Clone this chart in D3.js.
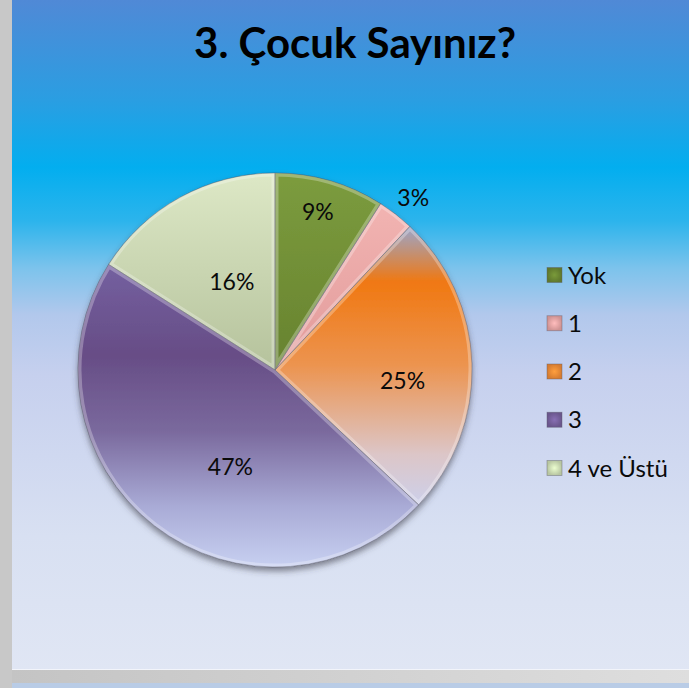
<!DOCTYPE html>
<html>
<head>
<meta charset="utf-8">
<script src="https://cdn.jsdelivr.net/npm/d3@7"></script>
<style>
	html, body { margin: 0; padding: 0; background: #c8c8c8; }
	svg { display: block; font-family: Lato, "Open Sans", sans-serif; }
</style>
</head>
<body>
<svg id="chart" width="689" height="688"></svg>
<script>
'use strict';

// chart data
const title = '3. Çocuk Sayınız?';
const categories = ['Yok', '1', '2', '3', '4 ve Üstü'];
const percents = [9, 3, 25, 47, 16];

// slice colours, top to bottom of each slice
const sliceStops = [
	[[0, '#7c9c3e'], [1, '#67822f']],
	[[0, '#f2b4b2'], [1, '#e19a9a']],
	[[0, '#9aa6cc'], [0.2, '#f07812'], [0.5, '#ec9450'], [0.82, '#dcc6c8'], [1, '#cdd0ea']],
	[[0, '#7460a0'], [0.3, '#674d86'], [0.55, '#7a699d'], [0.8, '#a9abd6'], [1, '#c7d0f1']],
	[[0, '#dde8c6'], [1, '#b5c29c']],
];
const legendColours = ['#6a8632', '#e6a4a4', '#ee8a36', '#76609c', '#cddcb4'];
// label placement: fraction of radius, angle shift in degrees
const labelPlace = [[0.83, -1], [1.12, 1], [0.65, 6.7], [0.54, -13], [0.5, 2.8]];

const W = 689, H = 688;
const svg = d3.select('#chart');
const defs = svg.append('defs');

// background panel
let bg = defs.append('linearGradient').attr('id', 'bg')
	.attr('x1', 0).attr('y1', 0).attr('x2', 0).attr('y2', 1);
[
	[0, '#5089d6'], [0.15, '#2a9ee2'], [0.25, '#03aeef'], [0.33, '#2cb4ec'],
	[0.4, '#7cc3ec'], [0.47, '#b2c8ec'], [0.56, '#c6d0ee'], [0.8, '#d8e0f2'], [1, '#e0e6f4']
].forEach(s => bg.append('stop').attr('offset', s[0]).attr('stop-color', s[1]));

let strip = defs.append('linearGradient').attr('id', 'strip');
strip.append('stop').attr('offset', 0).attr('stop-color', '#c4c4c4');
strip.append('stop').attr('offset', 1).attr('stop-color', '#dedede');

svg.append('rect').attr('x', 0).attr('y', 0).attr('width', W).attr('height', H).attr('fill', '#c8c8c8');
svg.append('rect').attr('x', 12).attr('y', 670).attr('width', W - 12).attr('height', 13).attr('fill', 'url(#strip)');
svg.append('rect').attr('x', 12).attr('y', 683).attr('width', W - 12).attr('height', 5).attr('fill', '#b9cce6');
svg.append('rect').attr('x', 12).attr('y', 0).attr('width', W - 12).attr('height', 670).attr('fill', 'url(#bg)');
svg.append('line').attr('x1', 12).attr('x2', W).attr('y1', 669.5).attr('y2', 669.5)
	.attr('stroke', '#f2f4fa').attr('stroke-width', 1);

// title
svg.append('text')
	.attr('x', 355).attr('y', 58)
	.attr('text-anchor', 'middle')
	.attr('font-weight', 'bold')
	.attr('font-size', 42)
	.attr('fill', '#000')
	.text(title);

// pie
const cx = 275, cy = 370, R = 197;

let shadow = defs.append('filter').attr('id', 'shadow')
	.attr('x', '-20%').attr('y', '-20%').attr('width', '140%').attr('height', '140%');
shadow.append('feDropShadow').attr('dx', 0).attr('dy', 4).attr('stdDeviation', 3)
	.attr('flood-color', '#3a3a4a').attr('flood-opacity', 0.6);

const pie = d3.pie().sort(null).value(d => d);
const arcs = pie(percents);
const arc = d3.arc().innerRadius(0).outerRadius(R);

let pieG = svg.append('g').attr('transform', `translate(${cx},${cy})`);
let sliceG = pieG.append('g').attr('filter', 'url(#shadow)');

arcs.forEach((a, i) => {
	let g = defs.append('linearGradient').attr('id', 'slice' + i)
		.attr('x1', 0).attr('y1', 0).attr('x2', 0).attr('y2', 1);
	sliceStops[i].forEach(s => g.append('stop').attr('offset', s[0]).attr('stop-color', s[1]));
	defs.append('clipPath').attr('id', 'clip' + i)
		.append('path').attr('transform', `translate(${cx},${cy})`).attr('d', arc(a));
});

sliceG.selectAll('path.slice')
	.data(arcs)
	.enter().append('path')
		.attr('class', 'slice')
		.attr('d', arc)
		.attr('fill', (d, i) => 'url(#slice' + i + ')');

// soft bevel: light inner rim, dark outline
let rimG = svg.append('g');
arcs.forEach((a, i) => {
	rimG.append('g').attr('clip-path', 'url(#clip' + i + ')')
		.append('path')
			.attr('transform', `translate(${cx},${cy})`)
			.attr('d', arc(a))
			.attr('fill', 'none')
			.attr('stroke', '#ffffff')
			.attr('stroke-opacity', 0.28)
			.attr('stroke-width', 7)
			.attr('stroke-linejoin', 'round');
});
pieG.append('g').selectAll('path')
	.data(arcs)
	.enter().append('path')
		.attr('d', arc)
		.attr('fill', 'none')
		.attr('stroke', '#4a4a5a')
		.attr('stroke-opacity', 0.5)
		.attr('stroke-width', 1);

// percent labels
pieG.selectAll('text.pct')
	.data(arcs)
	.enter().append('text')
		.attr('class', 'pct')
		.attr('x', (d, i) => {
			let ang = (d.startAngle + d.endAngle) / 2 + labelPlace[i][1] * Math.PI / 180;
			return Math.sin(ang) * R * labelPlace[i][0];
		})
		.attr('y', (d, i) => {
			let ang = (d.startAngle + d.endAngle) / 2 + labelPlace[i][1] * Math.PI / 180;
			return -Math.cos(ang) * R * labelPlace[i][0];
		})
		.attr('dy', '0.35em')
		.attr('text-anchor', 'middle')
		.attr('font-size', 23)
		.attr('fill', '#0a0a0a')
		.text(d => d.value + '%');

// legend
const legendY = d3.scalePoint().domain(categories).range([275, 468]);
let legendG = svg.append('g');
categories.forEach((c, i) => {
	let lg = defs.append('radialGradient').attr('id', 'leg' + i);
	lg.append('stop').attr('offset', 0).attr('stop-color', d3.color(legendColours[i]).brighter(0.4));
	lg.append('stop').attr('offset', 1).attr('stop-color', d3.color(legendColours[i]).darker(0.3));
	let y = legendY(c);
	legendG.append('rect')
		.attr('x', 547).attr('y', y - 7.5)
		.attr('width', 15).attr('height', 15)
		.attr('fill', 'url(#leg' + i + ')')
		.attr('stroke', '#5a5a6a').attr('stroke-opacity', 0.5).attr('stroke-width', 0.8);
	legendG.append('text')
		.attr('x', 568).attr('y', y)
		.attr('dy', '0.36em')
		.attr('font-size', 24)
		.attr('fill', '#0a0a0a')
		.text(c);
});
</script>
</body>
</html>
